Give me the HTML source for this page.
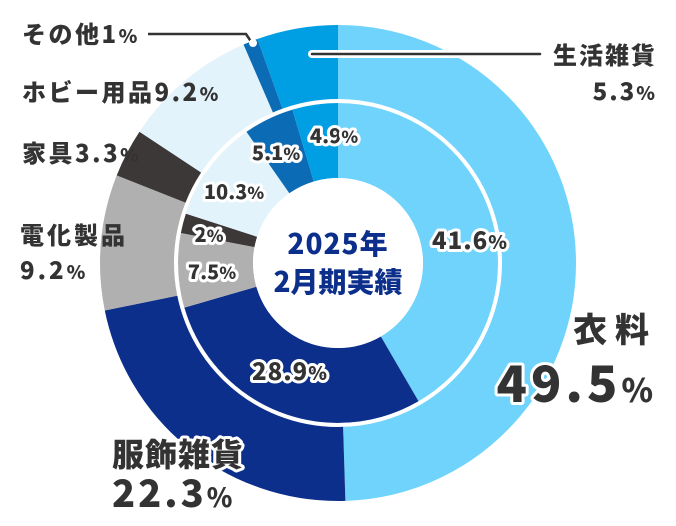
<!DOCTYPE html>
<html><head><meta charset="utf-8"><style>
html,body{margin:0;padding:0;background:#fff;}
svg{display:block;}
text{font-family:"Noto Sans CJK JP","Liberation Sans",sans-serif;font-weight:900;fill:#333;}
.o{stroke:#fff;stroke-width:6;paint-order:stroke;stroke-linejoin:round;}
</style></head><body>
<svg width="676" height="526" viewBox="0 0 676 526">
<g transform="rotate(-90 338 263)" fill="none">
<circle cx="338" cy="263" r="199" stroke="#6fd3fb" stroke-width="78" pathLength="100" stroke-dasharray="49.5 100" stroke-dashoffset="0"/>
<circle cx="338" cy="263" r="199" stroke="#0c2f8c" stroke-width="78" pathLength="100" stroke-dasharray="22.3 100" stroke-dashoffset="-49.5"/>
<circle cx="338" cy="263" r="199" stroke="#b0b0b0" stroke-width="78" pathLength="100" stroke-dasharray="9.2 100" stroke-dashoffset="-71.8"/>
<circle cx="338" cy="263" r="199" stroke="#3d3838" stroke-width="78" pathLength="100" stroke-dasharray="3.3 100" stroke-dashoffset="-81"/>
<circle cx="338" cy="263" r="199" stroke="#e2f3fc" stroke-width="78" pathLength="100" stroke-dasharray="9.2 100" stroke-dashoffset="-84.3"/>
<circle cx="338" cy="263" r="199" stroke="#0b6cb5" stroke-width="78" pathLength="100" stroke-dasharray="1 100" stroke-dashoffset="-93.5"/>
<circle cx="338" cy="263" r="199" stroke="#009fe3" stroke-width="78" pathLength="100" stroke-dasharray="5.5 100" stroke-dashoffset="-94.5"/>

<circle cx="338" cy="263" r="122.5" stroke="#6fd3fb" stroke-width="75" pathLength="100" stroke-dasharray="41.6 100" stroke-dashoffset="0"/>
<circle cx="338" cy="263" r="122.5" stroke="#0c2f8c" stroke-width="75" pathLength="100" stroke-dasharray="28.9 100" stroke-dashoffset="-41.6"/>
<circle cx="338" cy="263" r="122.5" stroke="#b0b0b0" stroke-width="75" pathLength="100" stroke-dasharray="7.5 100" stroke-dashoffset="-70.5"/>
<circle cx="338" cy="263" r="122.5" stroke="#3d3838" stroke-width="75" pathLength="100" stroke-dasharray="2 100" stroke-dashoffset="-78"/>
<circle cx="338" cy="263" r="122.5" stroke="#e2f3fc" stroke-width="75" pathLength="100" stroke-dasharray="10.3 100" stroke-dashoffset="-80"/>
<circle cx="338" cy="263" r="122.5" stroke="#0b6cb5" stroke-width="75" pathLength="100" stroke-dasharray="5.1 100" stroke-dashoffset="-90.3"/>
<circle cx="338" cy="263" r="122.5" stroke="#009fe3" stroke-width="75" pathLength="100" stroke-dasharray="4.6 100" stroke-dashoffset="-95.4"/>
</g>
<circle cx="338" cy="263" r="162" fill="none" stroke="#fff" stroke-width="4"/>
<circle cx="338" cy="263" r="85" fill="#fff"/>

<polyline points="148,34 246,34 252,43" fill="none" stroke="#333" stroke-width="2.5"/>
<circle cx="253" cy="43" r="4" fill="#fff"/>
<line x1="312" y1="54" x2="540" y2="54" stroke="#fff" stroke-width="8" stroke-linecap="round"/>
<line x1="312" y1="54" x2="540" y2="54" stroke="#333" stroke-width="2.5" stroke-linecap="round"/>

<text x="338" y="254" text-anchor="middle" font-size="28" letter-spacing="1" style="fill:#0c2f8c">2025年</text>
<text x="338" y="292" text-anchor="middle" font-size="28" style="fill:#0c2f8c">2月期実績</text>

<text class="o" x="470" y="249" text-anchor="middle" font-size="24" letter-spacing="1">41.6<tspan font-size="19">%</tspan></text>
<text class="o" x="290" y="380" text-anchor="middle" font-size="24" letter-spacing="1">28.9<tspan font-size="19">%</tspan></text>
<text class="o" x="212" y="279" text-anchor="middle" font-size="20">7.5<tspan font-size="17">%</tspan></text>
<text class="o" x="209" y="242" text-anchor="middle" font-size="20">2<tspan font-size="17">%</tspan></text>
<text class="o" x="234" y="199" text-anchor="middle" font-size="20">10.3<tspan font-size="17">%</tspan></text>
<text class="o" x="276" y="160" text-anchor="middle" font-size="20">5.1<tspan font-size="17">%</tspan></text>
<text class="o" x="334" y="143" text-anchor="middle" font-size="20">4.9<tspan font-size="17">%</tspan></text>

<text class="o" x="657" y="342" text-anchor="end" font-size="34" letter-spacing="8">衣料</text>
<text class="o" x="657" y="402" text-anchor="end" font-size="50" letter-spacing="4">49.5<tspan font-size="32">%</tspan></text>
<text class="o" x="112" y="466" font-size="32" letter-spacing="1">服飾雑貨</text>
<text class="o" x="112" y="507" font-size="38" letter-spacing="3">22.3<tspan font-size="26">%</tspan></text>
<text x="20" y="244" font-size="24" letter-spacing="3">電化製品</text>
<text x="20" y="279" font-size="24" letter-spacing="3">9.2<tspan font-size="19">%</tspan></text>
<text x="22" y="162" font-size="24" letter-spacing="2.5">家具3.3<tspan font-size="19">%</tspan></text>
<text x="22" y="101" font-size="24" letter-spacing="2.5">ホビー用品9.2<tspan font-size="19">%</tspan></text>
<text x="22" y="43" font-size="24" letter-spacing="2.5">その他1<tspan font-size="19">%</tspan></text>
<text x="657" y="64" text-anchor="end" font-size="24" letter-spacing="2">生活雑貨</text>
<text x="657" y="100" text-anchor="end" font-size="24" letter-spacing="2">5.3<tspan font-size="19">%</tspan></text>
</svg>
</body></html>
